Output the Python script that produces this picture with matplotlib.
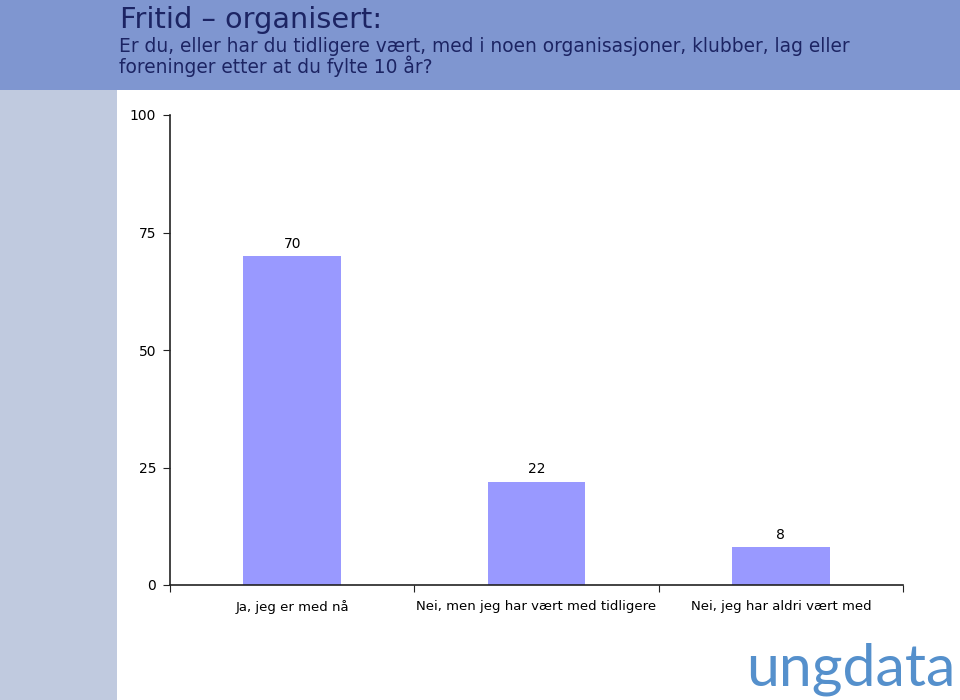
import matplotlib
matplotlib.use("Agg")
import matplotlib.pyplot as plt
from matplotlib.patches import Rectangle

categories = ["Ja, jeg er med nå", "Nei, men jeg har vært med tidligere", "Nei, jeg har aldri vært med"]
values = [70, 22, 8]
yticks = [0, 25, 50, 75, 100]

title = "Fritid – organisert:"
subtitle = "Er du, eller har du tidligere vært, med i noen organisasjoner, klubber, lag eller\nforeninger etter at du fylte 10 år?"

W, H = 960, 700
plt.rcParams['font.family'] = ['DejaVu Sans']
fig = plt.figure(figsize=(9.6, 7.0), dpi=100)

# background decorations
fig.patches.append(Rectangle((0, 1 - 90 / H), 1, 90 / H, transform=fig.transFigure,
                             facecolor="#7f96d0", edgecolor="none", zorder=0))
fig.patches.append(Rectangle((0, 0), 117 / W, 1 - 90 / H, transform=fig.transFigure,
                             facecolor="#c0cadf", edgecolor="none", zorder=0))

navy = "#1c2463"
fig.text(120 / W, 1 - 28 / H, title, fontsize=20.7, color=navy, va="baseline", ha="left")
fig.text(119 / W, 1 - 57 / H, subtitle, fontsize=13.4, color=navy, va="center", ha="left",
         linespacing=0.92)

ax = fig.add_axes([170 / W, (H - 585) / H, (903 - 170) / W, (585 - 115) / H])
x = list(range(len(categories)))
ax.bar(x, values, width=0.4, color="#9999ff", zorder=2)
ax.set_xlim(-0.5, len(categories) - 0.5)
ax.set_ylim(0, 100)
ax.set_yticks(yticks)
ax.set_yticklabels([str(t) for t in yticks], fontsize=10)
ax.set_xticks([i - 0.5 for i in range(len(categories) + 1)])
ax.set_xticklabels([])
ax.set_xticks(x, minor=True)
ax.set_xticklabels(categories, minor=True, fontsize=9.5)
ax.tick_params(axis="x", which="minor", length=0, pad=11)
ax.tick_params(axis="x", which="major", length=5, direction="out", color="#222222")
ax.tick_params(axis="y", length=5, direction="out", color="#222222", pad=5)
for s in ["top", "right"]:
    ax.spines[s].set_visible(False)
for s in ["left", "bottom"]:
    ax.spines[s].set_color("#222222")
    ax.spines[s].set_linewidth(1.2)
for xi, v in zip(x, values):
    ax.text(xi, v + 1.1, str(v), ha="center", va="bottom", fontsize=10, color="black")

fig.text(851 / W, 1 - 686 / H, "ungdata", fontsize=42.5, color="#5590cc", ha="center",
         va="baseline", fontweight="normal", family=["Lato", "DejaVu Sans"])

fig.savefig("out.png", dpi=100)
